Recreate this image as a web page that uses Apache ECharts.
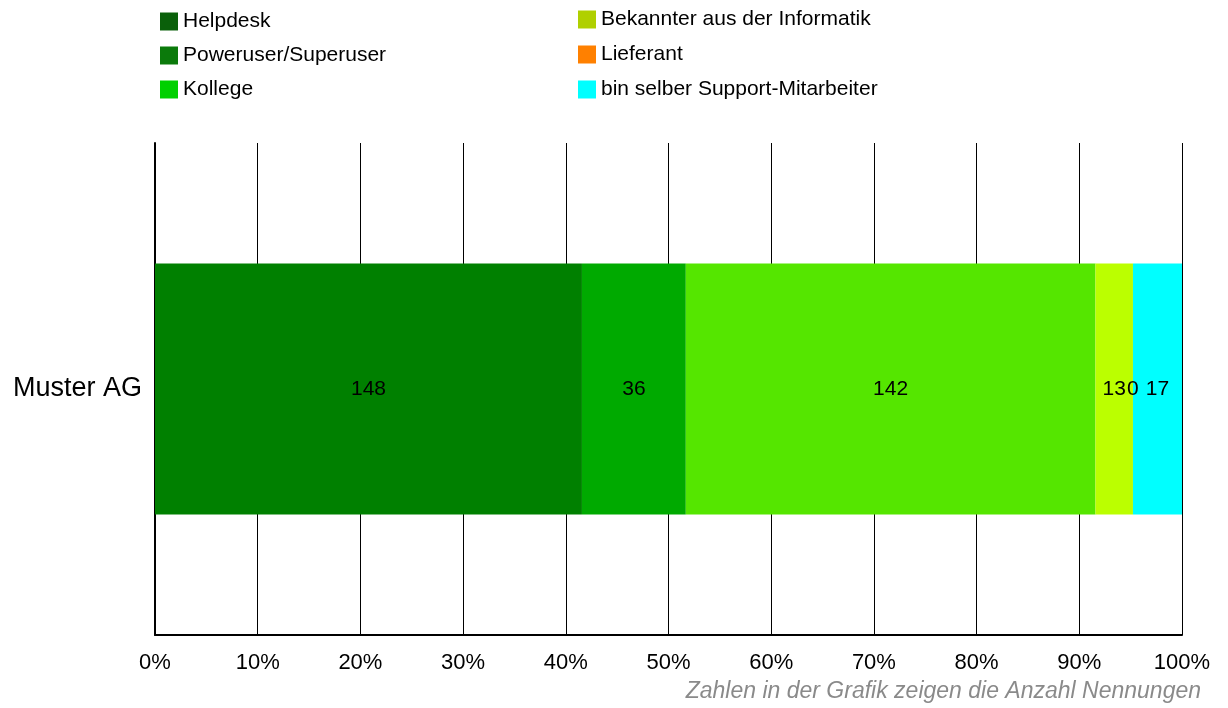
<!DOCTYPE html>
<html>
<head>
<meta charset="utf-8">
<script src="https://cdn.jsdelivr.net/npm/echarts@6/dist/echarts.min.js"></script>
<style>
    html, body {margin: 0; padding: 0; background: #fff;}
    #chart {width: 1228px; height: 708px;}
</style>
</head>
<body>
<div id="chart"></div>
<script>
    // Daten
    var categories = ['Muster AG'];
    var seriesNames = ['Helpdesk', 'Poweruser/Superuser', 'Kollege', 'Bekannter aus der Informatik', 'Lieferant', 'bin selber Support-Mitarbeiter'];
    var counts = [148, 36, 142, 13, 0, 17];
    var xTicks = [0, 10, 20, 30, 40, 50, 60, 70, 80, 90, 100];
    var barColors = ['#008000', '#00aa00', '#55e600', '#bbff00', '#ff8000', '#00ffff'];
    var legendColors = ['#0a600a', '#0b7a0b', '#00d000', '#b0d000', '#ff8000', '#00ffff'];

    var total = counts.reduce(function (a, b) { return a + b; }, 0);

    var series = [];
    seriesNames.forEach(function (name, i) {
        series.push({
            name: name,
            type: 'bar',
            stack: 'total',
            barWidth: 251,
            data: [counts[i] / total * 100],
            itemStyle: {color: barColors[i]},
            label: {
                show: true,
                position: 'inside',
                color: '#000',
                fontSize: 21,
                fontFamily: 'Liberation Sans, Arial',
                formatter: function () { return counts[i]; }
            }
        });
    });

    function legendItems(from, to) {
        var arr = [];
        for (var i = from; i < to; i++) {
            arr.push({name: seriesNames[i], itemStyle: {color: legendColors[i]}});
        }
        return arr;
    }

    var chart = echarts.init(document.getElementById('chart'));
    chart.setOption({
        animation: false,
        textStyle: {fontFamily: 'Liberation Sans, Arial'},
        legend: [
            {
                left: 155, top: 6, orient: 'vertical',
                itemWidth: 18, itemHeight: 18, itemGap: 13,
                icon: 'rect',
                textStyle: {fontSize: 21, color: '#000'},
                data: legendItems(0, 3)
            },
            {
                left: 573, top: 4, orient: 'vertical',
                itemWidth: 18, itemHeight: 18, itemGap: 14,
                icon: 'rect',
                textStyle: {fontSize: 21, color: '#000'},
                data: legendItems(3, 6)
            }
        ],
        grid: {left: 155, right: 46, top: 143, bottom: 73, containLabel: false},
        xAxis: {
            type: 'value',
            min: 0,
            max: 100,
            interval: 10,
            axisLine: {show: true, lineStyle: {color: '#000', width: 2}},
            axisTick: {show: false},
            splitLine: {show: true, lineStyle: {color: '#000', width: 1}},
            axisLabel: {
                fontSize: 22, color: '#000', margin: 17,
                formatter: function (v) { return xTicks.indexOf(v) >= 0 ? v + '%' : ''; }
            }
        },
        yAxis: {
            type: 'category',
            data: categories,
            axisLine: {show: true, lineStyle: {color: '#000', width: 2}},
            axisTick: {show: false},
            axisLabel: {fontSize: 27, color: '#000', margin: 13}
        },
        graphic: [{
            type: 'text',
            right: 27,
            top: 680,
            style: {
                text: 'Zahlen in der Grafik zeigen die Anzahl Nennungen',
                font: 'italic 23px Liberation Sans, Arial',
                fill: '#8a8a8a'
            }
        }],
        series: series
    });
</script>
</body>
</html>
